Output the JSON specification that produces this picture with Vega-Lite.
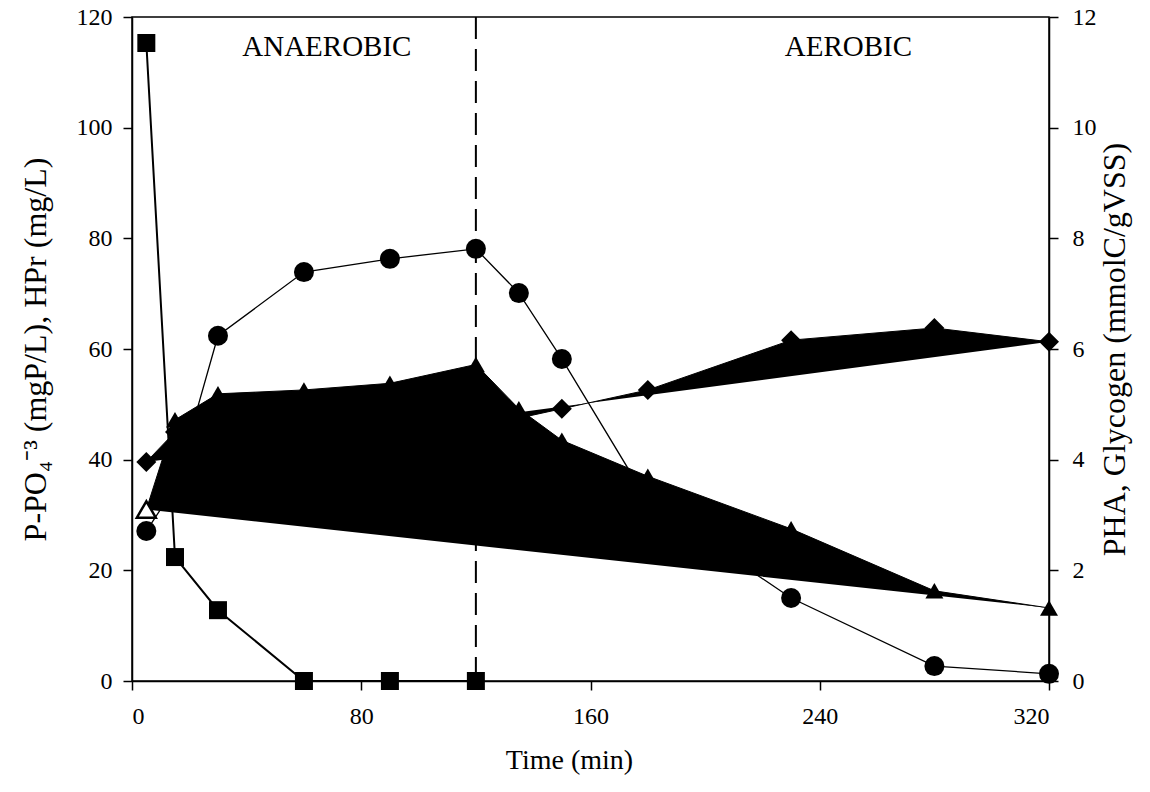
{
  "$schema": "https://vega.github.io/schema/vega-lite/v6.json",
  "width": 917,
  "height": 664,
  "autosize": {"type": "none"},
  "padding": {"left": 132, "top": 17, "right": 101, "bottom": 111},
  "background": "white",
  "config": {
    "view": {"stroke": "black", "strokeWidth": 1.5},
    "font": "Liberation Serif",
    "axis": {
      "grid": false,
      "labelFont": "Liberation Serif",
      "titleFont": "Liberation Serif",
      "labelFontSize": 24,
      "titleFontSize": 28,
      "titleFontWeight": "normal",
      "labelColor": "black",
      "titleColor": "black",
      "domainColor": "black",
      "tickColor": "black",
      "domainWidth": 1.5,
      "tickWidth": 1.5,
      "tickSize": 9
    }
  },
  "datasets": {
    "left": [
      {"s": "HPr", "t": 5, "v": 115.3},
      {"s": "HPr", "t": 15, "v": 22.4},
      {"s": "HPr", "t": 30, "v": 12.8},
      {"s": "HPr", "t": 60, "v": 0},
      {"s": "HPr", "t": 90, "v": 0},
      {"s": "HPr", "t": 120, "v": 0},
      {"s": "P", "t": 5, "v": 27.1},
      {"s": "P", "t": 15, "v": 35},
      {"s": "P", "t": 30, "v": 62.4},
      {"s": "P", "t": 60, "v": 73.9},
      {"s": "P", "t": 90, "v": 76.3},
      {"s": "P", "t": 120, "v": 78.1},
      {"s": "P", "t": 135, "v": 70.1},
      {"s": "P", "t": 150, "v": 58.2},
      {"s": "P", "t": 180, "v": 32.5},
      {"s": "P", "t": 230, "v": 15.0},
      {"s": "P", "t": 280, "v": 2.7},
      {"s": "P", "t": 320, "v": 1.3}
    ],
    "right": [
      {"s": "Glycogen", "t": 5, "v": 3.96},
      {"s": "Glycogen", "t": 15, "v": 4.5},
      {"s": "Glycogen", "t": 30, "v": 4.6},
      {"s": "Glycogen", "t": 60, "v": 4.7},
      {"s": "Glycogen", "t": 90, "v": 4.8},
      {"s": "Glycogen", "t": 120, "v": 4.85},
      {"s": "Glycogen", "t": 135, "v": 4.75},
      {"s": "Glycogen", "t": 150, "v": 4.92},
      {"s": "Glycogen", "t": 180, "v": 5.26},
      {"s": "Glycogen", "t": 230, "v": 6.16},
      {"s": "Glycogen", "t": 280, "v": 6.38},
      {"s": "Glycogen", "t": 320, "v": 6.13},
      {"s": "PHA", "t": 5, "v": 3.1},
      {"s": "PHA", "t": 15, "v": 4.72},
      {"s": "PHA", "t": 30, "v": 5.19},
      {"s": "PHA", "t": 60, "v": 5.26},
      {"s": "PHA", "t": 90, "v": 5.38},
      {"s": "PHA", "t": 120, "v": 5.72},
      {"s": "PHA", "t": 135, "v": 4.92},
      {"s": "PHA", "t": 150, "v": 4.35},
      {"s": "PHA", "t": 180, "v": 3.7},
      {"s": "PHA", "t": 230, "v": 2.75},
      {"s": "PHA", "t": 280, "v": 1.63},
      {"s": "PHA", "t": 320, "v": 1.32}
    ],
    "phases": [
      {"t": 68, "v": 114.6, "label": "ANAEROBIC"},
      {"t": 250, "v": 114.6, "label": "AEROBIC"}
    ],
    "switch": [{"t": 120}]
  },
  "resolve": {"scale": {"y": "independent"}, "axis": {"y": "independent"}},
  "layer": [
    {
      "layer": [
        {
          "data": {"name": "left"},
          "transform": [{"filter": "datum.s === 'HPr'"}],
          "mark": {"type": "line", "color": "black", "strokeWidth": 2},
          "encoding": {
            "x": {"field": "t", "type": "quantitative",
                  "scale": {"domain": [0, 320], "nice": false, "zero": false},
                  "axis": {"title": "Time (min)", "values": [0, 80, 160, 240, 320], "labelPadding": 14, "titlePadding": 18, "titleX": 437, "titleAlign": "center"}},
            "y": {"field": "v", "type": "quantitative",
                  "scale": {"domain": [0, 120], "nice": false},
                  "axis": {"orient": "left", "title": "P-PO₄⁻³ (mgP/L), HPr (mg/L)", "titleFontSize": 32, "values": [0, 20, 40, 60, 80, 100, 120], "labelPadding": 11, "titlePadding": 24}}
          }
        },
        {
          "data": {"name": "left"},
          "transform": [{"filter": "datum.s === 'P'"}],
          "mark": {"type": "line", "color": "black", "strokeWidth": 1.3},
          "encoding": {
            "x": {"field": "t", "type": "quantitative"},
            "y": {"field": "v", "type": "quantitative"}
          }
        },
        {
          "data": {"name": "left"},
          "transform": [{"filter": "datum.s === 'HPr'"}],
          "mark": {"type": "point", "shape": "square", "size": 324, "filled": true, "color": "black", "opacity": 1},
          "encoding": {
            "x": {"field": "t", "type": "quantitative"},
            "y": {"field": "v", "type": "quantitative"}
          }
        },
        {
          "data": {"name": "left"},
          "transform": [{"filter": "datum.s === 'P'"}],
          "mark": {"type": "point", "shape": "circle", "size": 400, "filled": true, "color": "black", "opacity": 1},
          "encoding": {
            "x": {"field": "t", "type": "quantitative"},
            "y": {"field": "v", "type": "quantitative"}
          }
        },
        {
          "data": {"name": "switch"},
          "mark": {"type": "rule", "color": "black", "strokeWidth": 2, "strokeDash": [22, 10]},
          "encoding": {"x": {"field": "t", "type": "quantitative"}}
        },
        {
          "data": {"name": "phases"},
          "mark": {"type": "text", "font": "Liberation Serif", "fontSize": 29, "color": "black", "baseline": "middle", "align": "center"},
          "encoding": {
            "x": {"field": "t", "type": "quantitative"},
            "y": {"field": "v", "type": "quantitative"},
            "text": {"field": "label"}
          }
        }
      ]
    },
    {
      "layer": [
        {
          "data": {"name": "right"},
          "mark": {"type": "line", "stroke": "black", "fill": "black", "strokeWidth": 1},
          "encoding": {
            "x": {"field": "t", "type": "quantitative"},
            "y": {"field": "v", "type": "quantitative",
                  "scale": {"domain": [0, 12], "nice": false},
                  "axis": {"orient": "right", "title": "PHA, Glycogen (mmolC/gVSS)", "titleFontSize": 32, "titleAngle": 270, "titleBaseline": "top", "format": "d", "values": [0, 2, 4, 6, 8, 10, 12], "labelPadding": 14, "titlePadding": 3}},
            "detail": {"field": "s"}
          }
        },
        {
          "data": {"name": "right"},
          "transform": [{"filter": "datum.s === 'Glycogen'"}],
          "mark": {"type": "point", "shape": "diamond", "size": 400, "filled": true, "color": "black", "opacity": 1},
          "encoding": {
            "x": {"field": "t", "type": "quantitative"},
            "y": {"field": "v", "type": "quantitative"}
          }
        },
        {
          "data": {"name": "right"},
          "transform": [{"filter": "datum.s === 'PHA' && datum.t > 5"}],
          "mark": {"type": "point", "shape": "triangle-up", "size": 324, "filled": true, "color": "black", "opacity": 1},
          "encoding": {
            "x": {"field": "t", "type": "quantitative"},
            "y": {"field": "v", "type": "quantitative"}
          }
        },
        {
          "data": {"name": "right"},
          "transform": [{"filter": "datum.s === 'PHA' && datum.t === 5"}],
          "mark": {"type": "point", "shape": "triangle-up", "size": 360, "filled": false, "stroke": "black", "fill": "white", "strokeWidth": 2.5, "opacity": 1},
          "encoding": {
            "x": {"field": "t", "type": "quantitative"},
            "y": {"field": "v", "type": "quantitative"}
          }
        }
      ]
    }
  ]
}
